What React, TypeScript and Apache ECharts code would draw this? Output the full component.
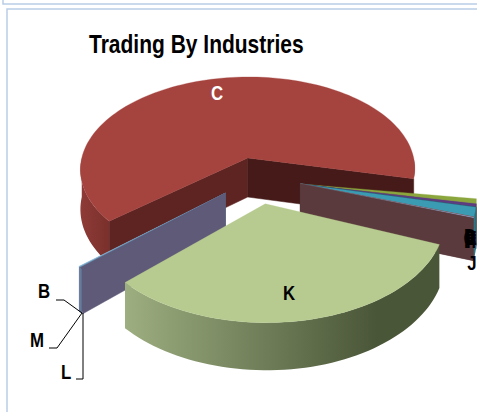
import React, { useEffect, useRef } from "react";
import * as echarts from "echarts";

const CATEGORIES = ["C", "D", "E", "F", "G", "H", "I", "J", "K", "L", "M", "B"];
const VALUES = [64.7, 0.8, 0.5, 0.05, 1.5, 0.05, 0.15, 0.05, 31.7, 0.3, 0.1, 0.1];
const TOP_COLORS = ["#a5443f", "#8ba63c", "#5e3c80", "#2f5f70", "#3b9bb2", "#9a4a3a", "#92a9d8", "#5a3a3c", "#b7cb90", "#5f5a78", "#6a9cc0", "#8cb8d8"];
const SIDE_COLORS = ["#5e2422", "#5a6e28", "#3e2856", "#1f4050", "#277080", "#663028", "#5a3a3c", "#5a3a3c", "#5d6a48", "#5f5a78", "#4a6c88", "#5f5a78"];
const END_COLORS = ["#451a18", "#5a6e28", "#3e2856", "#1f4050", "#277080", "#663028", "#5a3a3c", "#5a3a3c", "#5d6a48", "#5f5a78", "#4a6c88", "#5f5a78"];
const OUTER_LIGHT = ["#8f3b37", "#6c8030", "#4a3066", "#24505f", "#2f8090", "#7a3a30", "#3a8ca0", "#3a8ca0", "#9dae80", "#6c8cb0", "#6c8cb0", "#6c8cb0"];
const OUTER_DARK = ["#7a302c", "#5a6e28", "#3e2856", "#1f4050", "#277080", "#663028", "#2f7a90", "#2f7a90", "#4a5638", "#5f5a78", "#5f5a78", "#5f5a78"];
const GROUP_OFFSET: Record<string, number[]> = {
  C: [-9.5, -33], D: [43, 14], E: [43, 14], F: [43, 14], G: [43, 14], H: [43, 14], I: [43, 14], J: [43, 14],
  K: [8, 48], L: [-31, 30], M: [-31, 30], B: [-31, 30],
};
const GROUP_RADIUS: Record<string, number> = { C: 0.988 };
// first slice of each exploded group and the angle (degrees, clockwise from east) where it begins
const GROUP_FIRST = [0, 1, 8, 9];
const GROUP_START = [-220, 8.5, 22, 136.5];
const DRAW_ORDER = [0, 11, 10, 9, 1, 2, 3, 4, 5, 6, 7, 8];
const TITLE = "Trading By Industries";
const LABELS = [
  { t: "C", x: 217, y: 93, c: "#ffffff" },
  { t: "K", x: 289, y: 293, c: "#000000" },
  { t: "B", x: 44, y: 291, c: "#000000" },
  { t: "M", x: 37, y: 340, c: "#000000" },
  { t: "L", x: 66, y: 372, c: "#000000" },
  { t: "D", x: 470, y: 236, c: "#000000" },
  { t: "E", x: 471, y: 238, c: "#000000" },
  { t: "F", x: 471, y: 241, c: "#000000" },
  { t: "G", x: 470, y: 238, c: "#000000" },
  { t: "H", x: 470, y: 241, c: "#000000" },
  { t: "I", x: 472, y: 238, c: "#000000" },
  { t: "J", x: 472, y: 263, c: "#000000" },
];
const LEADERS = [
  [[56, 300], [64, 300], [82, 313]],
  [[49, 348], [57, 348], [82, 313]],
  [[76, 379], [83, 379], [83, 313]],
];

const CX = 257, CY = 176, R = 172, K_SQUASH = 0.56, PERSP = 0.125, DEPTH = 40;
const FONT = "'Liberation Sans', sans-serif";

function sliceRange(i: number) {
  let g = 0;
  GROUP_FIRST.forEach((f, idx) => { if (i >= f) g = idx; });
  let a = GROUP_START[g];
  for (let j = GROUP_FIRST[g]; j < i; j++) a += VALUES[j] * 3.6;
  return [a, a + VALUES[i] * 3.6];
}

function project(x: number, y: number, h: number) {
  const s = 1 / (1 - (PERSP * y) / R);
  return [CX + x * s, CY + K_SQUASH * y * s + h * DEPTH * s];
}

function renderItem(params: any, api: any) {
  const i = api.value(0);
  const [a0, a1] = sliceRange(i);
  const [ox, oy] = GROUP_OFFSET[CATEGORIES[i]];
  const rad = R * (GROUP_RADIUS[CATEGORIES[i]] ?? 1);
  const pt = (deg: number, h: number) => {
    const t = (deg * Math.PI) / 180;
    return project(ox + rad * Math.cos(t), oy + rad * Math.sin(t), h);
  };
  const children: any[] = [];
  const arc = (from: number, to: number, h: number) => {
    const n = Math.max(2, Math.ceil(Math.abs(to - from) / 2));
    const out = [];
    for (let k = 0; k <= n; k++) out.push(pt(from + ((to - from) * k) / n, h));
    return out;
  };
  const wall = (deg: number, color: string) => {
    children.push({
      type: "polygon",
      shape: { points: [project(ox, oy, 0), pt(deg, 0), pt(deg, 1), project(ox, oy, 1)] },
      style: { fill: color, stroke: color, lineWidth: 0.5 },
    });
  };
  if (Math.cos((a0 * Math.PI) / 180) < 0) wall(a0, SIDE_COLORS[i]);
  if (Math.cos((a1 * Math.PI) / 180) > 0) wall(a1, END_COLORS[i]);
  const ranges: number[][] = [];
  const add = (lo: number, hi: number) => {
    const f = Math.max(a0, lo), t = Math.min(a1, hi);
    if (t > f) ranges.push([f, t]);
  };
  add(-360, -180);
  add(0, 180);
  ranges.forEach(([f, t]) => {
    children.push({
      type: "polygon",
      shape: { points: [...arc(f, t, 0), ...arc(t, f, 1)] },
      style: {
        fill: { type: "linear", x: 0, y: 0, x2: 1, y2: 0, colorStops: [
          { offset: 0, color: OUTER_LIGHT[i] },
          { offset: i === 8 ? 0.8 : 1, color: OUTER_DARK[i] },
          { offset: 1, color: OUTER_DARK[i] },
        ] },
      },
    });
  });
  children.push({
    type: "polygon",
    shape: { points: [project(ox, oy, 0), ...arc(a0, a1, 0)] },
    style: { fill: TOP_COLORS[i], stroke: TOP_COLORS[i], lineWidth: 0.3 },
  });
  return { type: "group", children };
}

export default function App() {
  const ref = useRef<HTMLDivElement>(null);
  useEffect(() => {
    document.body.style.margin = "0";
    const chart = echarts.init(ref.current!, null, { renderer: "svg" });
    const frame = "#b9cde5";
    chart.setOption({
      animation: false,
      backgroundColor: "#ffffff",
      series: [{
        type: "custom",
        coordinateSystem: "none",
        silent: true,
        data: DRAW_ORDER.map((i) => [i, VALUES[i]]),
        renderItem,
      }],
      graphic: [
        { type: "polyline", shape: { points: [[3, 0], [3, 4], [477, 4]] }, style: { stroke: frame, fill: "none", lineWidth: 1.5 } },
        { type: "polyline", shape: { points: [[7, 412], [7, 9], [477, 9]] }, style: { stroke: frame, fill: "none", lineWidth: 1.5 } },
        {
          type: "text", z: 6, x: 89, y: 44, scaleX: 0.84,
          style: { text: TITLE, fill: "#000", font: `bold 25px ${FONT}`, align: "left", verticalAlign: "middle" },
        },
        ...LEADERS.map((p) => ({ type: "polyline", z: 5, shape: { points: p }, style: { stroke: "#000", fill: "none", lineWidth: 1 } })),
        ...LABELS.map((l) => ({
          type: "text", z: 6, x: l.x, y: l.y, scaleX: 0.8,
          style: { text: l.t, fill: l.c, font: `bold 21px ${FONT}`, align: "center", verticalAlign: "middle" },
        })),
      ],
    });
    return () => chart.dispose();
  }, []);
  return <div ref={ref} style={{ width: 477, height: 412 }} />;
}
